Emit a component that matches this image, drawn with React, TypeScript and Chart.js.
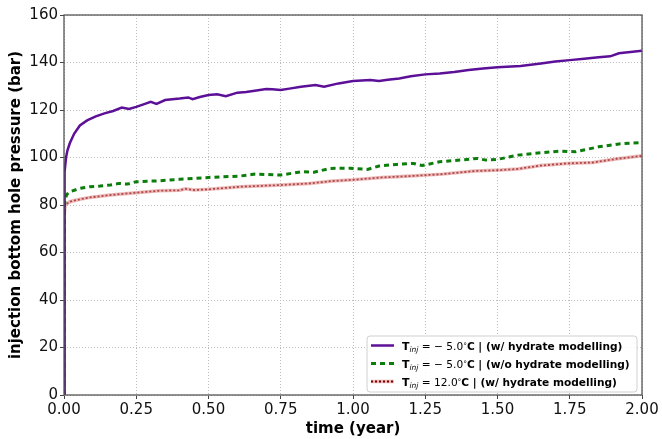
import React, { useEffect, useRef } from 'react';
import { Chart, registerables } from 'chart.js';

Chart.register(...registerables);

// ---- data (time in years, pressure in bar) ----
const purpleTime = [0, 0.001, 0.003, 0.007, 0.012, 0.02, 0.035, 0.055, 0.08, 0.11, 0.14, 0.17, 0.2, 0.225, 0.25, 0.28, 0.3, 0.32, 0.35, 0.4, 0.43, 0.445, 0.47, 0.5, 0.53, 0.56, 0.6, 0.63, 0.66, 0.7, 0.72, 0.75, 0.78, 0.82, 0.87, 0.9, 0.95, 1.0, 1.06, 1.09, 1.12, 1.16, 1.2, 1.25, 1.3, 1.35, 1.4, 1.45, 1.5, 1.58, 1.65, 1.7, 1.75, 1.8, 1.85, 1.89, 1.92, 1.96, 2.0];
const purplePressure = [0, 86, 94, 100, 103, 106, 110, 113.5, 115.6, 117.3, 118.6, 119.6, 121, 120.4, 121.3, 122.6, 123.4, 122.6, 124.2, 124.8, 125.3, 124.6, 125.5, 126.3, 126.6, 125.8, 127.3, 127.6, 128.1, 128.8, 128.7, 128.4, 129, 129.8, 130.5, 129.8, 131.2, 132.2, 132.6, 132.2, 132.7, 133.3, 134.2, 135, 135.4, 136, 136.8, 137.5, 138, 138.5, 139.6, 140.4, 141, 141.6, 142.2, 142.6, 143.9, 144.4, 145];

const greenTime = [0, 0.001, 0.004, 0.01, 0.02, 0.055, 0.09, 0.125, 0.16, 0.19, 0.22, 0.25, 0.33, 0.4, 0.5, 0.61, 0.66, 0.75, 0.82, 0.865, 0.92, 0.99, 1.05, 1.09, 1.15, 1.21, 1.24, 1.3, 1.37, 1.43, 1.46, 1.5, 1.57, 1.65, 1.72, 1.77, 1.85, 1.92, 2.0];
const greenPressure = [0, 79, 82.5, 84.5, 85.6, 87, 87.7, 88, 88.4, 89.1, 88.8, 89.8, 90.2, 90.8, 91.6, 92.2, 93, 92.6, 94, 93.8, 95.4, 95.5, 95, 96.4, 97.1, 97.5, 96.6, 98.2, 98.9, 99.6, 98.9, 99.2, 101, 102, 102.7, 102.4, 104.5, 105.7, 106.3];

const redTime = [0, 0.001, 0.004, 0.02, 0.055, 0.09, 0.16, 0.25, 0.33, 0.4, 0.42, 0.45, 0.5, 0.61, 0.75, 0.85, 0.93, 1.0, 1.1, 1.2, 1.31, 1.42, 1.51, 1.57, 1.65, 1.74, 1.83, 1.91, 2.0];
const redPressure = [0, 76, 80, 81.4, 82.4, 83.2, 84.2, 85.2, 86, 86.2, 86.8, 86.3, 86.6, 87.7, 88.4, 89.1, 90.1, 90.6, 91.6, 92.2, 93, 94.3, 94.7, 95.2, 96.6, 97.5, 97.9, 99.4, 100.7];

const xTickValues = [0, 0.25, 0.5, 0.75, 1.0, 1.25, 1.5, 1.75, 2.0];
const yTickValues = [0, 20, 40, 60, 80, 100, 120, 140, 160];

const legendTemps = [' = − 5.0', ' = − 5.0', ' = 12.0'];
const legendNotes = ['C | (w/ hydrate modelling)', 'C | (w/o hydrate modelling)', 'C | (w/ hydrate modelling)'];

const xTitle = 'time (year)';
const yTitle = 'injection bottom hole pressure (bar)';

const PURPLE = '#5c0f97';
const GREEN = '#0b7d0b';
const RED_DARK = '#7a0000';
const RED_PALE = 'rgba(220,130,130,0.55)';

const FONT = '"DejaVu Sans", sans-serif';

const toPoints = (t: number[], p: number[]) => t.map((v, i) => ({ x: v, y: p[i] }));

const framePlugin = {
  id: 'frameAndLegend',
  afterDatasetsDraw(chart: any) {
    const { ctx, chartArea: a } = chart;
    ctx.save();
    ctx.strokeStyle = '#555';
    ctx.lineWidth = 1.3;
    ctx.strokeRect(a.left, a.top, a.right - a.left, a.bottom - a.top);
    ctx.restore();
  },
  afterDraw(chart: any) {
    const { ctx, chartArea: a } = chart;
    const w = 270;
    const h = 56;
    const x0 = a.right - 5 - w;
    const y0 = a.bottom - 3 - h;
    ctx.save();
    const r = 3;
    ctx.beginPath();
    ctx.moveTo(x0 + r, y0);
    ctx.lineTo(x0 + w - r, y0);
    ctx.quadraticCurveTo(x0 + w, y0, x0 + w, y0 + r);
    ctx.lineTo(x0 + w, y0 + h - r);
    ctx.quadraticCurveTo(x0 + w, y0 + h, x0 + w - r, y0 + h);
    ctx.lineTo(x0 + r, y0 + h);
    ctx.quadraticCurveTo(x0, y0 + h, x0, y0 + h - r);
    ctx.lineTo(x0, y0 + r);
    ctx.quadraticCurveTo(x0, y0, x0 + r, y0);
    ctx.closePath();
    ctx.fillStyle = 'rgba(255,255,255,0.85)';
    ctx.fill();
    ctx.strokeStyle = '#d0d0d0';
    ctx.lineWidth = 1;
    ctx.stroke();

    const rowY = [y0 + 9.5, y0 + 27.5, y0 + 45.5];
    const lx0 = x0 + 4;
    const lx1 = x0 + 27;
    ctx.lineCap = 'butt';
    ctx.strokeStyle = PURPLE;
    ctx.lineWidth = 2.5;
    ctx.setLineDash([]);
    ctx.beginPath(); ctx.moveTo(lx0, rowY[0]); ctx.lineTo(lx1, rowY[0]); ctx.stroke();
    ctx.strokeStyle = GREEN;
    ctx.lineWidth = 3;
    ctx.setLineDash([5, 4]);
    ctx.beginPath(); ctx.moveTo(lx0, rowY[1]); ctx.lineTo(lx1, rowY[1]); ctx.stroke();
    ctx.setLineDash([]);
    ctx.strokeStyle = RED_PALE;
    ctx.lineWidth = 3.5;
    ctx.beginPath(); ctx.moveTo(lx0, rowY[2]); ctx.lineTo(lx1, rowY[2]); ctx.stroke();
    ctx.strokeStyle = RED_DARK;
    ctx.lineWidth = 1.8;
    ctx.setLineDash([2, 2]);
    ctx.beginPath(); ctx.moveTo(lx0, rowY[2]); ctx.lineTo(lx1, rowY[2]); ctx.stroke();
    ctx.setLineDash([]);

    ctx.fillStyle = '#000';
    ctx.textBaseline = 'alphabetic';
    ctx.textAlign = 'left';
    for (let i = 0; i < 3; i++) {
      const base = rowY[i] + 4;
      let x = x0 + 35;
      ctx.font = `bold 11px ${FONT}`;
      ctx.fillText('T', x, base);
      x += ctx.measureText('T').width;
      ctx.font = `italic 7.5px ${FONT}`;
      ctx.fillText('inj', x, base + 2.5);
      x += ctx.measureText('inj').width;
      ctx.font = `10.6px ${FONT}`;
      ctx.fillText(legendTemps[i], x, base);
      x += ctx.measureText(legendTemps[i]).width;
      ctx.font = `7.5px ${FONT}`;
      ctx.fillText('°', x, base - 1.5);
      x += ctx.measureText('°').width;
      ctx.font = `bold 10.6px ${FONT}`;
      ctx.fillText(legendNotes[i], x, base);
    }
    ctx.restore();
  },
};

export default function App() {
  const ref = useRef<HTMLCanvasElement | null>(null);

  useEffect(() => {
    document.body.style.margin = '0';
    const canvas = ref.current;
    if (!canvas) return;
    const chart = new Chart(canvas, {
      type: 'line',
      data: {
        datasets: [
          {
            label: 'purple',
            data: toPoints(purpleTime, purplePressure),
            borderColor: PURPLE,
            borderWidth: 2.5,
            pointRadius: 0,
            tension: 0,
          },
          {
            label: 'green',
            data: toPoints(greenTime, greenPressure),
            borderColor: GREEN,
            borderWidth: 3,
            borderDash: [5, 4],
            pointRadius: 0,
            tension: 0,
          },
          {
            label: 'red-pale',
            data: toPoints(redTime, redPressure),
            borderColor: RED_PALE,
            borderWidth: 3.5,
            pointRadius: 0,
            tension: 0,
          },
          {
            label: 'red',
            data: toPoints(redTime, redPressure),
            borderColor: RED_DARK,
            borderWidth: 1.8,
            borderDash: [2, 2],
            pointRadius: 0,
            tension: 0,
          },
        ],
      },
      options: {
        animation: false,
        responsive: false,
        maintainAspectRatio: false,
        layout: { padding: { top: 15, right: 20, left: 0, bottom: 0 } },
        plugins: {
          legend: { display: false },
          tooltip: { enabled: false },
        },
        scales: {
          x: {
            type: 'linear',
            min: 0,
            max: 2,
            afterFit: (s: any) => { s.height = 44; },
            afterBuildTicks: (s: any) => { s.ticks = xTickValues.map((v) => ({ value: v })); },
            ticks: {
              color: '#111',
              font: { family: FONT, size: 15 },
              padding: 2,
              maxRotation: 0,
              autoSkip: false,
              callback: (v: any) => Number(v).toFixed(2),
            },
            grid: {
              color: '#bdbdbd',
              lineWidth: 1,
              drawTicks: true,
              tickLength: 4,
              tickColor: '#444',
              tickWidth: 1,
              tickBorderDash: [],
            },
            border: { display: false, dash: [1, 2] },
            title: {
              display: true,
              text: xTitle,
              color: '#000',
              font: { family: FONT, size: 15, weight: 'bold' },
              padding: { top: 0, bottom: 1 },
            },
          },
          y: {
            type: 'linear',
            min: 0,
            max: 160,
            afterFit: (s: any) => { s.width = 64; },
            afterBuildTicks: (s: any) => { s.ticks = yTickValues.map((v) => ({ value: v })); },
            ticks: {
              color: '#111',
              font: { family: FONT, size: 15 },
              padding: 2,
              autoSkip: false,
            },
            grid: {
              color: '#bdbdbd',
              lineWidth: 1,
              drawTicks: true,
              tickLength: 4,
              tickColor: '#444',
              tickWidth: 1,
              tickBorderDash: [],
            },
            border: { display: false, dash: [1, 2] },
            title: {
              display: true,
              text: yTitle,
              color: '#000',
              font: { family: FONT, size: 15, weight: 'bold' },
              padding: { top: 7, bottom: 0 },
            },
          },
        },
      },
      plugins: [framePlugin],
    } as any);
    return () => chart.destroy();
  }, []);

  return (
    <div style={{ width: 662, height: 439 }}>
      <canvas ref={ref} width={662} height={439} style={{ display: 'block' }} />
    </div>
  );
}
